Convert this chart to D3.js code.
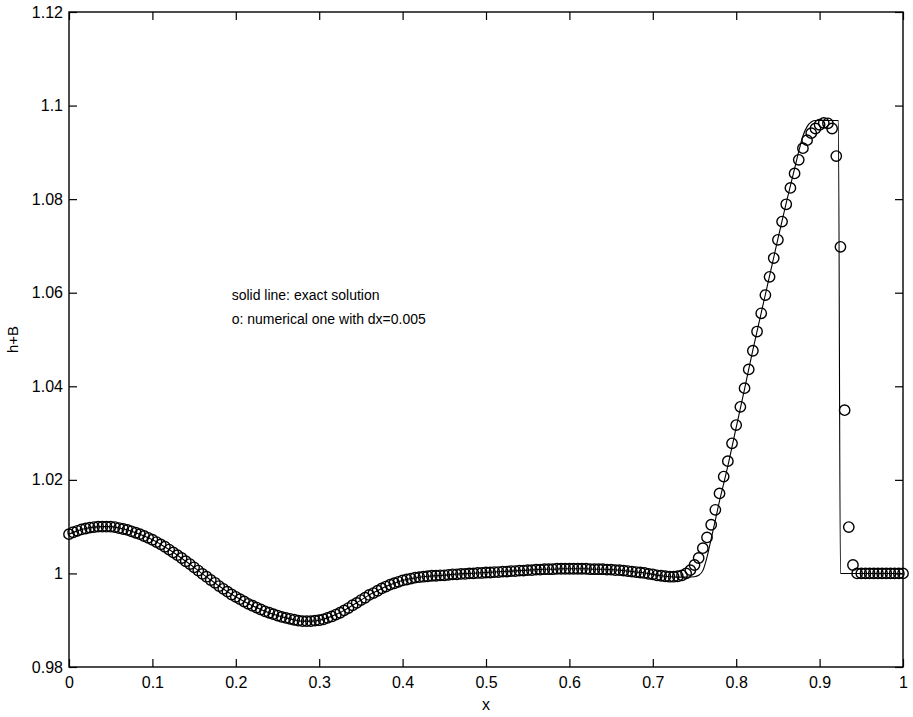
<!DOCTYPE html>
<html>
<head>
<meta charset="utf-8">
<script src="https://cdn.jsdelivr.net/npm/d3@7"></script>
<style>
  body { margin: 0; background: #fff; }
  text { font-family: "Liberation Sans", Arial, Helvetica, sans-serif; fill: #000; }
</style>
</head>
<body>
<svg></svg>
<script>
// numerical solution, dx = 0.005, one value per grid point from x=0 to x=1
var dx = 0.005;
var numY = [
  1.0084, 1.0088, 1.0091, 1.0094, 1.0096, 1.0098, 1.0099, 1.0100, 1.0100, 1.0100,
  1.0100, 1.0099, 1.0097, 1.0095, 1.0093, 1.0090, 1.0087, 1.0084, 1.0080, 1.0076,
  1.0072, 1.0067, 1.0062, 1.0057, 1.0051, 1.0045, 1.0039, 1.0033, 1.0026, 1.0020,
  1.0013, 1.0006, 0.9999, 0.9993, 0.9986, 0.9980, 0.9973, 0.9967, 0.9961, 0.9955,
  0.9950, 0.9945, 0.9940, 0.9935, 0.9931, 0.9927, 0.9923, 0.9919, 0.9916, 0.9913,
  0.9910, 0.9907, 0.9905, 0.9903, 0.9901, 0.9899, 0.9898, 0.9898, 0.9898, 0.9899,
  0.9900, 0.9902, 0.9905, 0.9908, 0.9912, 0.9916, 0.9921, 0.9926, 0.9932, 0.9937,
  0.9943, 0.9948, 0.9954, 0.9958, 0.9963, 0.9968, 0.9972, 0.9976, 0.9979, 0.9982,
  0.9985, 0.9987, 0.9989, 0.9991, 0.9992, 0.9993, 0.9994, 0.9995, 0.9995, 0.9996,
  0.9996, 0.9997, 0.9998, 0.9998, 0.9999, 0.9999, 1.0000, 1.0000, 1.0001, 1.0001,
  1.0002, 1.0002, 1.0003, 1.0003, 1.0004, 1.0004, 1.0005, 1.0005, 1.0006, 1.0006,
  1.0007, 1.0007, 1.0008, 1.0008, 1.0009, 1.0009, 1.0009, 1.0010, 1.0010, 1.0010,
  1.0010, 1.0010, 1.0010, 1.0010, 1.0010, 1.0009, 1.0009, 1.0009, 1.0009, 1.0008,
  1.0008, 1.0007, 1.0007, 1.0006, 1.0005, 1.0004, 1.0003, 1.0002, 1.0001, 0.9999,
  0.9998, 0.9996, 0.9995, 0.9994, 0.9993, 0.9993, 0.9994, 0.9996, 1.0000, 1.0007,
  1.0018, 1.0033, 1.0054, 1.0077, 1.0104, 1.0136, 1.0171, 1.0207, 1.0240, 1.0278,
  1.0317, 1.0356, 1.0396, 1.0436, 1.0476, 1.0517, 1.0556, 1.0595, 1.0634, 1.0674,
  1.0713, 1.0752, 1.0789, 1.0824, 1.0855, 1.0884, 1.0909, 1.0926, 1.0941, 1.0951,
  1.0959, 1.0963, 1.0962, 1.0951, 1.0892, 1.0698, 1.0349, 1.0099, 1.0018, 1.0000,
  1.0000, 1.0000, 1.0000, 1.0000, 1.0000, 1.0000, 1.0000, 1.0000, 1.0000, 1.0000,
  1.0000
];

// exact solution
var exactX = [
  0.00, 0.01, 0.02, 0.03, 0.04, 0.05, 0.06, 0.07, 0.08, 0.09,
  0.10, 0.11, 0.12, 0.13, 0.14, 0.15, 0.16, 0.17, 0.18, 0.19,
  0.20, 0.21, 0.22, 0.23, 0.24, 0.25, 0.26, 0.27, 0.28, 0.29,
  0.30, 0.31, 0.32, 0.33, 0.34, 0.35, 0.36, 0.37, 0.38, 0.39,
  0.40, 0.41, 0.42, 0.43, 0.44, 0.45, 0.46, 0.47, 0.48, 0.49,
  0.50, 0.51, 0.52, 0.53, 0.54, 0.55, 0.56, 0.57, 0.58, 0.59,
  0.60, 0.61, 0.62, 0.63, 0.64, 0.65, 0.66, 0.67, 0.68, 0.69,
  0.70, 0.71, 0.72, 0.73, 0.74, 0.75, 0.755, 0.76, 0.765, 0.77,
  0.775, 0.78, 0.785, 0.79, 0.80, 0.81, 0.82, 0.83, 0.84, 0.85,
  0.86, 0.87, 0.875, 0.88, 0.885, 0.89, 0.895, 0.90, 0.91, 0.9225,
  0.925, 0.94, 0.96, 0.98, 1.00
];
var exactY = [
  1.0084, 1.0091, 1.0096, 1.0099, 1.0100, 1.0100, 1.0097, 1.0093, 1.0087, 1.0080,
  1.0072, 1.0062, 1.0051, 1.0039, 1.0026, 1.0013, 0.9999, 0.9986, 0.9973, 0.9961,
  0.9950, 0.9940, 0.9931, 0.9923, 0.9916, 0.9910, 0.9905, 0.9901, 0.9898, 0.9898,
  0.9900, 0.9905, 0.9912, 0.9921, 0.9932, 0.9943, 0.9954, 0.9963, 0.9972, 0.9979,
  0.9985, 0.9989, 0.9992, 0.9994, 0.9995, 0.9996, 0.9998, 0.9999, 1.0000, 1.0001,
  1.0002, 1.0003, 1.0004, 1.0005, 1.0006, 1.0007, 1.0008, 1.0009, 1.0009, 1.0010,
  1.0010, 1.0010, 1.0010, 1.0009, 1.0009, 1.0008, 1.0007, 1.0005, 1.0003, 1.0001,
  0.9998, 0.9995, 0.9993, 0.9992, 0.9992, 0.9993, 0.9996, 1.0006, 1.0035, 1.0074,
  1.0114, 1.0155, 1.0192, 1.0230, 1.0312, 1.0394, 1.0478, 1.0557, 1.0636, 1.0715,
  1.0792, 1.0865, 1.0902, 1.0935, 1.0955, 1.0965, 1.0968, 1.0968, 1.0968, 1.0968,
  1.0000, 1.0000, 1.0000, 1.0000, 1.0000
];

var xTicks = [0, 0.1, 0.2, 0.3, 0.4, 0.5, 0.6, 0.7, 0.8, 0.9, 1];
var xTickLabels = ["0", "0.1", "0.2", "0.3", "0.4", "0.5", "0.6", "0.7", "0.8", "0.9", "1"];
var yTicks = [0.98, 1, 1.02, 1.04, 1.06, 1.08, 1.1, 1.12];
var yTickLabels = ["0.98", "1", "1.02", "1.04", "1.06", "1.08", "1.1", "1.12"];
var noteLines = ["solid line: exact solution", "o: numerical one with dx=0.005"];

var W = 913, H = 717;
var margin = {top: 12, right: 10, bottom: 50, left: 69},
    width = W - margin.left - margin.right,
    height = H - margin.top - margin.bottom;

var svg = d3.select('svg')
    .attr('width', W)
    .attr('height', H);

var g = svg.append('g')
    .attr('transform', 'translate(' + margin.left + ',' + margin.top + ')');

var x = d3.scaleLinear().domain([0, 1]).range([0, width]);
var y = d3.scaleLinear().domain([0.98, 1.12]).range([height, 0]);

// axes, MATLAB style: ticks pointing in on all four sides
function styleAxis(sel) {
  sel.select('.domain').remove();
  sel.selectAll('line').attr('stroke', '#000').attr('stroke-width', 1.2);
  sel.selectAll('text').style('font-size', '16px').style('font-family', '"Liberation Sans", Arial, sans-serif');
}

g.append('g')
    .attr('transform', 'translate(0,' + height + ')')
    .call(d3.axisBottom(x).tickValues(xTicks).tickSizeInner(-8).tickSizeOuter(0).tickPadding(10)
      .tickFormat(function(d, i) { return xTickLabels[i]; }))
    .call(styleAxis);

g.append('g')
    .call(d3.axisTop(x).tickValues(xTicks).tickSizeInner(-8).tickSizeOuter(0).tickFormat(''))
    .call(styleAxis);

g.append('g')
    .call(d3.axisLeft(y).tickValues(yTicks).tickSizeInner(-8).tickSizeOuter(0).tickPadding(6)
      .tickFormat(function(d, i) { return yTickLabels[i]; }))
    .call(styleAxis);

g.append('g')
    .attr('transform', 'translate(' + width + ',0)')
    .call(d3.axisRight(y).tickValues(yTicks).tickSizeInner(-8).tickSizeOuter(0).tickFormat(''))
    .call(styleAxis);

g.append('rect')
    .attr('width', width)
    .attr('height', height)
    .attr('fill', 'none')
    .attr('stroke', '#000')
    .attr('stroke-width', 1.4);

// exact solution line
var exact = exactX.map(function(d, i) { return [d, exactY[i]]; });
var line = d3.line()
    .x(function(d) { return x(d[0]); })
    .y(function(d) { return y(d[1]); })
    .curve(d3.curveMonotoneX);

g.append('path')
    .datum(exact)
    .attr('fill', 'none')
    .attr('stroke', '#000')
    .attr('stroke-width', 1.1)
    .attr('d', line);

// numerical solution circles
g.selectAll('.pt')
    .data(numY)
    .enter()
    .append('circle')
      .classed('pt', true)
      .attr('cx', function(d, i) { return x(i * dx); })
      .attr('cy', function(d) { return y(d); })
      .attr('r', 5.2)
      .attr('fill', 'none')
      .attr('stroke', '#000')
      .attr('stroke-width', 1.4);

// annotation
g.selectAll('.note')
    .data(noteLines)
    .enter()
    .append('text')
      .classed('note', true)
      .attr('x', x(0.195))
      .attr('y', function(d, i) { return y(1.0593) + i * 24; })
      .attr('dominant-baseline', 'middle')
      .style('font-size', '14px')
      .text(function(d) { return d; });

// axis titles
svg.append('text')
    .attr('x', margin.left + width / 2)
    .attr('y', 706)
    .attr('text-anchor', 'middle')
    .attr('dominant-baseline', 'middle')
    .style('font-size', '16px')
    .text('x');

svg.append('text')
    .attr('transform', 'translate(14,' + (margin.top + height / 2) + ') rotate(-90)')
    .attr('text-anchor', 'middle')
    .attr('dominant-baseline', 'middle')
    .style('font-size', '15px')
    .text('h+B');
</script>
</body>
</html>
